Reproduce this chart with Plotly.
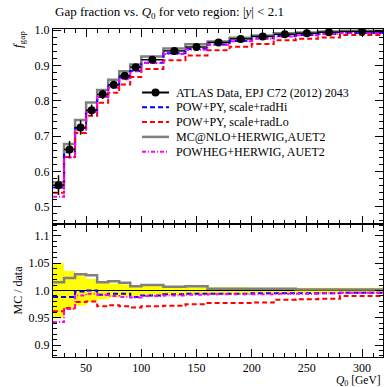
import plotly.graph_objects as go

# ---- data ----
bin_edges = [20, 30, 40, 50, 60, 70, 80, 90, 100, 120, 140, 160, 180, 200, 220, 240, 260, 280, 320]
data_vals = [0.561, 0.662, 0.724, 0.773, 0.818, 0.845, 0.871, 0.895, 0.916, 0.941,
             0.952, 0.965, 0.975, 0.982, 0.988, 0.991, 0.994, 0.996]
data_relerr = [0.050, 0.036, 0.028, 0.021, 0.016, 0.013, 0.011, 0.010, 0.009, 0.009,
               0.008, 0.006, 0.006, 0.005, 0.005, 0.005, 0.005, 0.005]

ratio_radHi = [0.988, 0.988, 0.998, 1.000, 0.992, 0.994, 0.994, 0.988, 0.991, 0.993,
               0.994, 0.994, 0.994, 0.995, 0.995, 0.995, 0.995, 0.996]
ratio_radLo = [0.962, 0.968, 0.979, 0.980, 0.971, 0.973, 0.971, 0.969, 0.971, 0.972,
               0.975, 0.977, 0.977, 0.978, 0.983, 0.984, 0.985, 0.990]
ratio_mcnlo = [1.015, 1.023, 1.030, 1.028, 1.015, 1.017, 1.014, 1.008, 1.010, 1.007,
               1.008, 1.003, 1.003, 1.003, 1.003, 1.002, 1.002, 1.002]
ratio_powhw = [0.942, 0.966, 0.991, 0.994, 0.992, 0.990, 0.988, 0.987, 0.990, 0.991,
               0.992, 0.993, 0.993, 0.993, 0.994, 0.994, 0.995, 0.996]

labels = ["ATLAS Data, EPJ C72 (2012) 2043", "POW+PY, scale+radHi", "POW+PY, scale+radLo",
          "MC@NLO+HERWIG,AUET2", "POWHEG+HERWIG, AUET2"]

FONT = "Liberation Serif"

centers = [(a + b) / 2 for a, b in zip(bin_edges[:-1], bin_edges[1:])]
halfw = [(b - a) / 2 for a, b in zip(bin_edges[:-1], bin_edges[1:])]
data_err = [v * e for v, e in zip(data_vals, data_relerr)]


def step(vals):
    return list(bin_edges), list(vals) + [vals[-1]]


W, H = 384, 387
ml, mr, mt, mb = 53, 1, 29, 30
pw = W - ml - mr
ph = H - mt - mb
split = (357 - 224) / ph


def px(x):
    return (x - ml) / pw


def py(y):
    return 1 - (y - mt) / ph


fig = go.Figure()

style_mcnlo = dict(color="#808080", width=2.5, dash="solid")
style_radHi = dict(color="#0000ff", width=2, dash="5px,3px")
style_radLo = dict(color="#ff0000", width=2, dash="5px,3px")
style_powhw = dict(color="#ff00ff", width=2, dash="4px,2px,1px,2px")

mc_specs = [
    (ratio_mcnlo, labels[3], style_mcnlo),
    (ratio_radHi, labels[1], style_radHi),
    (ratio_radLo, labels[2], style_radLo),
    (ratio_powhw, labels[4], style_powhw),
]

# ratio band (data uncertainty)
band_hi = [1 + e for e in data_relerr]
band_lo = [1 - e for e in data_relerr]
xs, ys = step(band_lo)
fig.add_trace(go.Scatter(x=xs, y=ys, mode="lines", line=dict(width=0, shape="hv", color="#ffff00"),
                         showlegend=False, xaxis="x2", yaxis="y2", hoverinfo="skip"))
xs, ys = step(band_hi)
fig.add_trace(go.Scatter(x=xs, y=ys, mode="lines", line=dict(width=0, shape="hv", color="#ffff00"),
                         fill="tonexty", fillcolor="#ffff00",
                         showlegend=False, xaxis="x2", yaxis="y2", hoverinfo="skip"))
xs, ys = step([1.0] * len(data_vals))
fig.add_trace(go.Scatter(x=xs, y=ys, mode="lines", line=dict(width=1.2, shape="hv", color="black"),
                         showlegend=False, xaxis="x2", yaxis="y2", hoverinfo="skip"))

for ratio, name, ln in mc_specs:
    mc = [r * d for r, d in zip(ratio, data_vals)]
    xs, ys = step(mc)
    fig.add_trace(go.Scatter(x=xs, y=ys, mode="lines", name=name, showlegend=False,
                             line=dict(shape="hv", **ln), xaxis="x", yaxis="y"))
    xs, ys = step(ratio)
    fig.add_trace(go.Scatter(x=xs, y=ys, mode="lines", showlegend=False,
                             line=dict(shape="hv", **ln), xaxis="x2", yaxis="y2"))

# data points
fig.add_trace(go.Scatter(x=centers, y=data_vals, mode="markers", name=labels[0], showlegend=False,
                         marker=dict(color="black", size=8),
                         error_x=dict(type="data", array=halfw, width=0, color="black", thickness=1.5),
                         error_y=dict(type="data", array=data_err, width=0, color="black", thickness=1.5),
                         xaxis="x", yaxis="y"))

axis_common = dict(showline=True, linecolor="black", linewidth=1, ticks="inside",
                   tickcolor="black", tickwidth=1, mirror="ticks", showgrid=False,
                   zeroline=False, tickfont=dict(family=FONT, size=12, color="black"))

fig.update_layout(
    width=W, height=H,
    margin=dict(l=ml, r=mr, t=mt, b=mb),
    plot_bgcolor="white", paper_bgcolor="white",
    font=dict(family=FONT, size=12, color="black"),
    showlegend=False,
    xaxis=dict(range=[20, 319], anchor="y", domain=[0, 1], showticklabels=False,
               tick0=0, dtick=50, ticklen=8,
               minor=dict(dtick=10, ticklen=4, ticks="inside", tickcolor="black"),
               **axis_common),
    yaxis=dict(range=[0.451, 1.003], domain=[split, 1], anchor="x",
               tick0=0, dtick=0.1, ticklen=8, tickformat=".1f",
               minor=dict(dtick=0.02, ticklen=4, ticks="inside", tickcolor="black"),
               **axis_common),
    xaxis2=dict(range=[20, 319], anchor="y2", domain=[0, 1], matches="x",
                tick0=0, dtick=50, ticklen=8,
                minor=dict(dtick=10, ticklen=4, ticks="inside", tickcolor="black"),
                **axis_common),
    yaxis2=dict(range=[0.878, 1.122], domain=[0, split], anchor="x2",
                tickvals=[0.9, 0.95, 1.0, 1.05, 1.1], ticktext=["0.9", "0.95", "1.0", "1.05", "1.1"],
                ticklen=8,
                minor=dict(dtick=0.01, ticklen=4, ticks="inside", tickcolor="black"),
                **axis_common),
)

# ---- manual legend (compact row spacing like the reference) ----
leg_styles = [None, style_radHi, style_radLo, style_mcnlo, style_powhw]
row0, drow = 92.5, 14.8
lx0, lx1, tx = 142, 169, 174
for i, (lab, st) in enumerate(zip(labels, leg_styles)):
    yy = py(row0 + i * drow)
    if st is None:
        fig.add_shape(type="line", xref="paper", yref="paper", x0=px(lx0), x1=px(lx1), y0=yy, y1=yy,
                      line=dict(color="black", width=2))
        cx, cy, r = (lx0 + lx1) / 2, row0 + i * drow, 4
        fig.add_shape(type="circle", xref="paper", yref="paper",
                      x0=px(cx - r), x1=px(cx + r), y0=py(cy + r), y1=py(cy - r),
                      fillcolor="black", line=dict(color="black", width=0))
    else:
        fig.add_shape(type="line", xref="paper", yref="paper", x0=px(lx0), x1=px(lx1), y0=yy, y1=yy,
                      line=st)
    fig.add_annotation(text=lab, xref="paper", yref="paper", x=px(tx), y=yy, xanchor="left",
                       yanchor="middle", showarrow=False, font=dict(family=FONT, size=12, color="black"))

fig.add_annotation(text="Gap fraction vs. <i>Q</i><sub>0</sub> for veto region: |<i>y</i>| &lt; 2.1",
                   xref="paper", yref="paper", x=0, y=py(13), xanchor="left",
                   yanchor="middle", showarrow=False, font=dict(family=FONT, size=13, color="black"))
fig.add_annotation(text="<i>f</i><sub>gap</sub>", xref="paper", yref="paper",
                   x=px(18), y=py(40), xanchor="center", yanchor="middle",
                   textangle=-90, showarrow=False, font=dict(family=FONT, size=13, color="black"))
fig.add_annotation(text="MC / data", xref="paper", yref="paper",
                   x=px(17), y=split / 2, xanchor="center", yanchor="middle",
                   textangle=-90, showarrow=False, font=dict(family=FONT, size=12, color="black"))
fig.add_annotation(text="<i>Q</i><sub>0</sub> [GeV]", xref="paper", yref="paper",
                   x=1, y=py(381), xanchor="right", yanchor="middle",
                   showarrow=False, font=dict(family=FONT, size=11.5, color="black"))

fig.write_html("out.html", config={"displayModeBar": False},
               post_script="document.body.style.margin='0';")
